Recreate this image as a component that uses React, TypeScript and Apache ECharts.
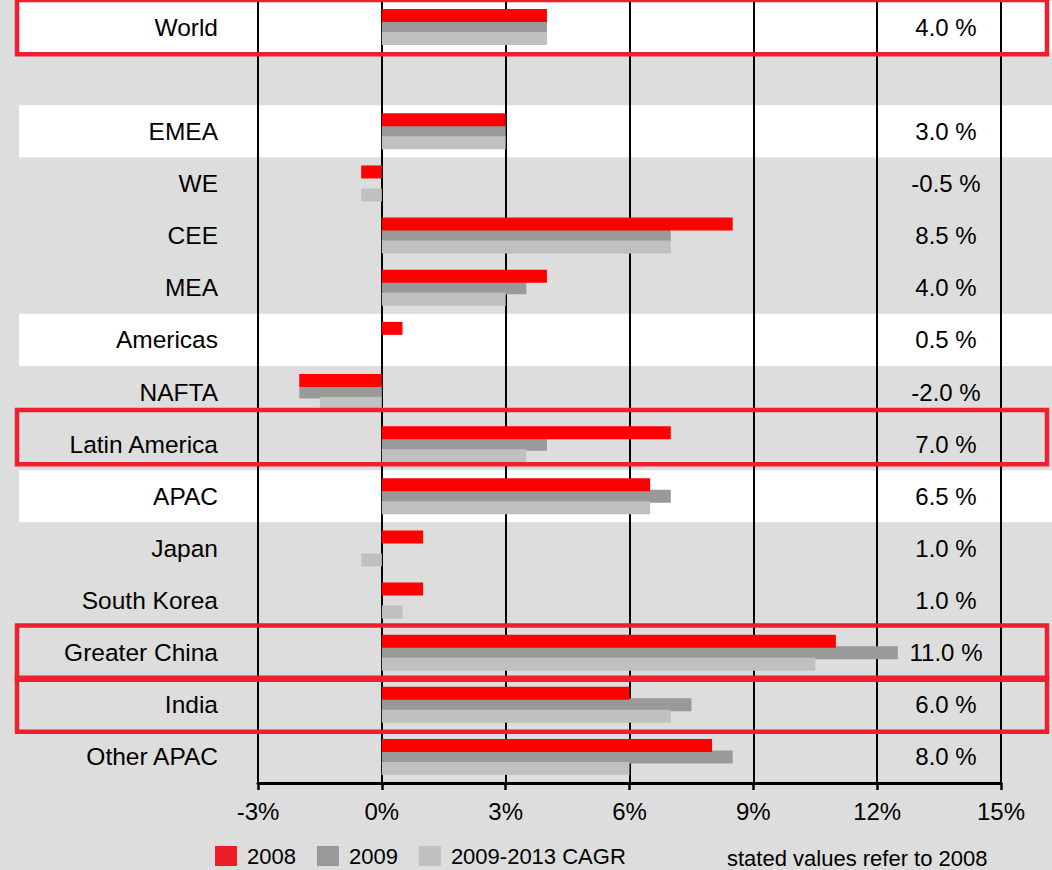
import React, { useEffect, useRef } from "react";
import * as echarts from "echarts";

// Regions (top to bottom); the empty entry is a spacer row under World.
const categories = [
  "World",
  "",
  "EMEA",
  "WE",
  "CEE",
  "MEA",
  "Americas",
  "NAFTA",
  "Latin America",
  "APAC",
  "Japan",
  "South Korea",
  "Greater China",
  "India",
  "Other APAC",
];

// Growth rates in percent
const growth2008 = [4.0, null, 3.0, -0.5, 8.5, 4.0, 0.5, -2.0, 7.0, 6.5, 1.0, 1.0, 11.0, 6.0, 8.0];
const growth2009 = [4.0, null, 3.0, 0, 7.0, 3.5, 0, -2.0, 4.0, 7.0, 0, 0, 12.5, 7.5, 8.5];
const cagr2009to2013 = [4.0, null, 3.0, -0.5, 7.0, 3.0, 0, -1.5, 3.5, 6.5, -0.5, 0.5, 10.5, 7.0, 6.0];

const xTicks = { min: -3, max: 15, interval: 3 };

// Rows with a white band and rows that get a red frame
const whiteRows = ["World", "EMEA", "Americas", "APAC"];
const framedRows = [
  { name: "World", dy: 0 },
  { name: "Latin America", dy: -7 },
  { name: "Greater China", dy: 0 },
  { name: "India", dy: 0 },
];

const FONT = '"Liberation Sans", Arial, Helvetica, sans-serif';
const RED = "#ff0000";
const DARK_GREY = "#999999";
const LIGHT_GREY = "#c0c0c0";
const FRAME_RED = "#ef1f31";

export default function App() {
  const ref = useRef<HTMLDivElement>(null);

  useEffect(() => {
    if (!ref.current) return;
    const chart = echarts.init(ref.current, null, { renderer: "svg" });

    const fmt = (v: number | null) => (v === null || v === undefined ? "" : v.toFixed(1) + " %");

    chart.setOption({
      animation: false,
      backgroundColor: "#dddddd",
      textStyle: { fontFamily: FONT },
      grid: { left: 258, right: 51, top: 1, bottom: 87, outerBoundsMode: "none" },
      legend: {
        left: 215,
        top: 845,
        padding: 0,
        itemWidth: 22,
        itemHeight: 20,
        itemGap: 21,
        icon: "rect",
        selectedMode: false,
        textStyle: { fontFamily: FONT, fontSize: 22, color: "#000", padding: [0, 0, 0, 5] },
        data: [
          { name: "2008", itemStyle: { color: "#ee1c25" } },
          { name: "2009" },
          { name: "2009-2013 CAGR" },
        ],
      },
      xAxis: {
        type: "value",
        min: xTicks.min,
        max: xTicks.max,
        interval: xTicks.interval,
        axisLine: { show: true, lineStyle: { color: "#000", width: 3 } },
        axisTick: { show: true, length: 7, lineStyle: { color: "#000", width: 2.5 } },
        axisLabel: {
          formatter: "{value}%",
          fontFamily: FONT,
          fontSize: 24,
          color: "#000",
          margin: 16,
        },
        splitLine: { show: true, lineStyle: { color: "#000", width: 2 } },
      },
      yAxis: [
        {
          type: "category",
          inverse: true,
          data: categories,
          axisLine: { show: false },
          axisTick: { show: false },
          splitLine: { show: false },
          axisLabel: { fontFamily: FONT, fontSize: 24.5, color: "#000", margin: 40 },
        },
        {
          type: "category",
          inverse: true,
          position: "right",
          data: categories,
          axisLine: { show: false },
          axisTick: { show: false },
          splitLine: { show: false },
          axisLabel: {
            inside: true,
            align: "center",
            margin: 55,
            fontFamily: FONT,
            fontSize: 24,
            color: "#000",
            formatter: (_v: string, i: number) => fmt(growth2008[i]),
          },
        },
      ],
      series: [
        {
          name: "2008",
          type: "bar",
          data: growth2008,
          barWidth: 13,
          barGap: "-11.5%",
          itemStyle: { color: RED },
          z: 3,
        },
        {
          name: "2009",
          type: "bar",
          data: growth2009,
          barWidth: 13,
          barGap: "-11.5%",
          itemStyle: { color: DARK_GREY },
          z: 2,
        },
        {
          name: "2009-2013 CAGR",
          type: "bar",
          data: cagr2009to2013,
          barWidth: 13,
          barGap: "-11.5%",
          itemStyle: { color: LIGHT_GREY },
          z: 3,
        },
      ],
    });

    // Row bands and frames are placed from the category axis positions
    const rowY = (name: string) =>
      chart.convertToPixel({ yAxisIndex: 0 }, categories.indexOf(name)) as number;
    const step = Math.abs(
      (chart.convertToPixel({ yAxisIndex: 0 }, 1) as number) -
        (chart.convertToPixel({ yAxisIndex: 0 }, 0) as number)
    );

    const bands = whiteRows.map((name) => ({
      type: "rect",
      z: -10,
      silent: true,
      shape: { x: 19, y: rowY(name) - step / 2, width: 1052 - 19, height: step },
      style: { fill: "#ffffff" },
    }));

    const frames = framedRows.map((f) => ({
      type: "rect",
      z: 100,
      silent: true,
      shape: {
        x: 17,
        y: rowY(f.name) + f.dy - (step + 2) / 2,
        width: 1047 - 17,
        height: step + 2,
      },
      style: { fill: "none", stroke: FRAME_RED, lineWidth: 4.5 },
    }));

    const note = {
      type: "text",
      z: 100,
      left: 727,
      top: 847,
      style: {
        text: "stated values refer to 2008",
        fontFamily: FONT,
        fontSize: 22,
        fill: "#000",
      },
    };

    chart.setOption({ graphic: [...bands, ...frames, note] });

    return () => chart.dispose();
  }, []);

  return (
    <div
      ref={ref}
      style={{ position: "fixed", left: 0, top: 0, width: 1052, height: 870 }}
    />
  );
}
